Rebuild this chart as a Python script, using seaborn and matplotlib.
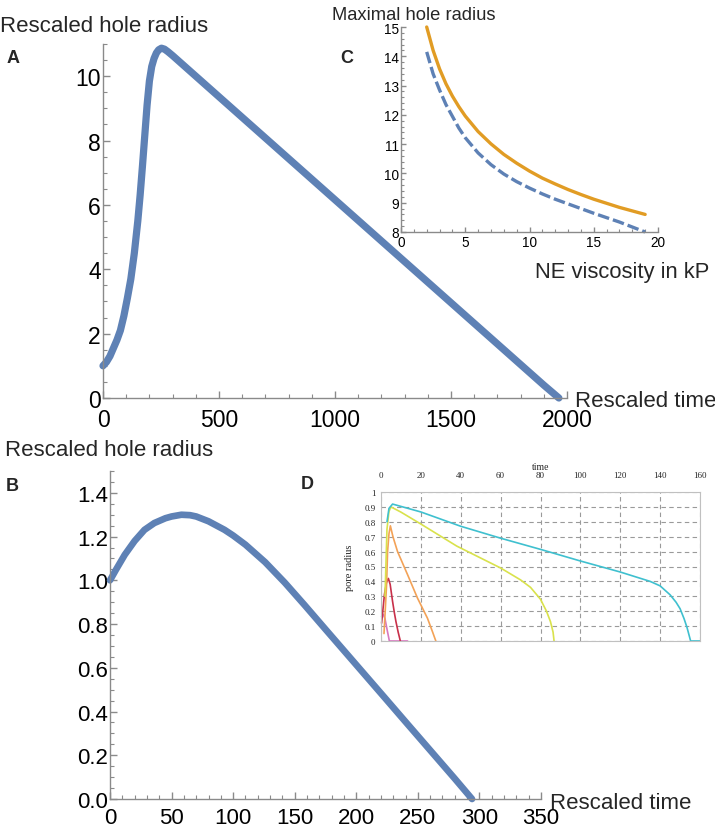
import numpy as np
import pandas as pd
import matplotlib
matplotlib.use("Agg")
import matplotlib.pyplot as plt
import seaborn as sns
from matplotlib.ticker import MultipleLocator, FixedLocator, FuncFormatter

# ---------------- data ----------------
# Panel A: rescaled hole radius vs rescaled time
a_time = [0, 15, 30, 45, 60, 75, 90, 105, 120, 135, 150, 160, 170, 180, 190, 200, 210,
          220, 230, 240, 252, 265, 280, 300, 400, 600, 800, 1000, 1250, 1500, 1750,
          1900, 1965]
a_radius = [1.0, 1.12, 1.3, 1.55, 1.8, 2.1, 2.55, 3.1, 3.7, 4.5, 5.5, 6.3, 7.2, 8.15,
            9.1, 9.85, 10.3, 10.55, 10.72, 10.82, 10.87, 10.84, 10.76, 10.64, 10.0, 8.72,
            7.44, 6.16, 4.56, 2.96, 1.36, 0.4, 0.0]

# Panel B
b_time = [0, 5, 12, 20, 28, 36, 45, 50, 58, 65, 70, 80, 93, 100, 110, 126, 142, 158,
          175, 191, 207, 223, 240, 260, 280, 294]
b_radius = [1.0, 1.05, 1.117, 1.18, 1.231, 1.262, 1.284, 1.292, 1.30, 1.298, 1.292,
            1.27, 1.231, 1.205, 1.163, 1.083, 0.989, 0.887, 0.776, 0.672, 0.568, 0.464,
            0.353, 0.223, 0.093, 0.0]

# Panel C: maximal hole radius vs NE viscosity
c_visc = [2, 2.5, 3, 3.5, 4, 4.5, 5, 6, 7, 8, 9, 10, 11, 12, 13, 14, 15, 16, 17, 18, 19]
c_orange = [15.0, 14.2, 13.57, 13.06, 12.64, 12.28, 11.96, 11.43, 11.01, 10.65, 10.35,
            10.08, 9.84, 9.64, 9.45, 9.28, 9.12, 8.98, 8.84, 8.72, 8.6]
c_blue = [14.15, 13.4, 12.85, 12.35, 11.95, 11.55, 11.22, 10.7, 10.3, 9.98, 9.72, 9.5,
          9.3, 9.12, 8.96, 8.8, 8.64, 8.49, 8.34, 8.17, 8.0]

# Panel D: pore radius vs time (five runs)
d_magenta_t = [0.3, 1.0, 2, 3, 4.2, 13.3]
d_magenta_r = [0.164, 0.18, 0.15, 0.08, 0.0, 0.0]
d_red_t = [0.3, 0.9, 1.7, 2.7, 3.7, 4.6, 5.8, 6.7, 7.5, 8.6, 9.7]
d_red_r = [0.12, 0.2, 0.31, 0.39, 0.42, 0.38, 0.266, 0.19, 0.13, 0.06, 0.0]
d_orange_t = [1.5, 2.3, 2.8, 3.3, 4.0, 4.7, 6, 8.3, 13.3, 18.3, 23.3, 25.8, 27.5]
d_orange_r = [0.05, 0.25, 0.38, 0.6, 0.72, 0.773, 0.7, 0.6, 0.446, 0.288, 0.153, 0.063,
              0.0]
d_yellow_t = [2, 3, 4, 5, 10, 20, 38, 60, 70, 75, 80, 83, 85, 86.3, 86.8]
d_yellow_r = [0.3, 0.75, 0.87, 0.9, 0.865, 0.785, 0.637, 0.49, 0.41, 0.36, 0.28, 0.2,
              0.13, 0.06, 0.0]
d_cyan_t = [3, 4, 5.8, 20, 40, 60, 80, 100, 120, 135, 140, 145, 148, 150, 152, 153.5,
            154.5, 155.3, 160]
d_cyan_r = [0.8, 0.89, 0.919, 0.866, 0.77, 0.69, 0.615, 0.537, 0.463, 0.40, 0.37, 0.31,
            0.26, 0.217, 0.15, 0.09, 0.04, 0.0, 0.0]

a_xticks = [0, 500, 1000, 1500, 2000]
a_yticks = [0, 2, 4, 6, 8, 10]
b_xticks = [0, 50, 100, 150, 200, 250, 300, 350]
b_yticks = [0.0, 0.2, 0.4, 0.6, 0.8, 1.0, 1.2, 1.4]
c_xticks = [0, 5, 10, 15, 20]
c_yticks = [8, 9, 10, 11, 12, 13, 14, 15]
d_xticks = [0, 20, 40, 60, 80, 100, 120, 140, 160]
d_yticks = [0, 0.1, 0.2, 0.3, 0.4, 0.5, 0.6, 0.7, 0.8, 0.9, 1.0]

# ---------------- style ----------------
sns.set_style("ticks")
plt.rcParams['font.family'] = ['Liberation Sans', 'DejaVu Sans']

BLUE = '#5E81B5'
ORANGE = '#E19C24'
GRAY = '#8a8a8a'

W, H = 715, 829
fig = plt.figure(figsize=(W / 100, H / 100), dpi=100)


def ax_at(l, t, r, b):
    return fig.add_axes([l / W, 1 - b / H, (r - l) / W, (b - t) / H])


def math_style(ax, size, xpad, ypad, majlen=5, minlen=3):
    for s in ['top', 'right']:
        ax.spines[s].set_visible(False)
    for s in ['left', 'bottom']:
        ax.spines[s].set_color(GRAY)
        ax.spines[s].set_linewidth(1.0)
    ax.tick_params(which='both', direction='in', color=GRAY, labelcolor='black')
    ax.tick_params(which='major', length=majlen, width=1.0)
    ax.tick_params(which='minor', length=minlen, width=0.8)
    ax.tick_params(axis='x', labelsize=size, pad=xpad)
    ax.tick_params(axis='y', labelsize=size, pad=ypad)
    ax.set_xlabel('')
    ax.set_ylabel('')
    ax.set_facecolor('none')


# ---------- Panel A ----------
axA = ax_at(103, 45, 567, 399)
sns.lineplot(x=a_time, y=a_radius, ax=axA, color=BLUE, lw=5.2, sort=False,
             estimator=None, clip_on=False)
axA.set_xlim(0, 2000)
axA.set_ylim(0, 11.0)
axA.xaxis.set_major_locator(FixedLocator(a_xticks))
axA.xaxis.set_minor_locator(MultipleLocator(100))
axA.yaxis.set_major_locator(FixedLocator(a_yticks))
axA.yaxis.set_minor_locator(MultipleLocator(0.5))
math_style(axA, 16.5, 7, 1.5)

# ---------- Panel B ----------
axB = ax_at(110, 472, 541, 800)
sns.lineplot(x=b_time, y=b_radius, ax=axB, color=BLUE, lw=4.8, sort=False,
             estimator=None, clip_on=False)
axB.set_xlim(0, 350)
axB.set_ylim(0, 1.5)
axB.xaxis.set_major_locator(FixedLocator(b_xticks))
axB.xaxis.set_minor_locator(MultipleLocator(10))
axB.yaxis.set_major_locator(FixedLocator(b_yticks))
axB.yaxis.set_minor_locator(MultipleLocator(0.05))
axB.yaxis.set_major_formatter(FuncFormatter(lambda v, p: f"{v:.1f}"))
math_style(axB, 16, 5.5, 1.5)

# ---------- Panel C ----------
axC = ax_at(401, 28, 658, 233)
sns.lineplot(x=c_visc, y=c_orange, ax=axC, color=ORANGE, lw=2.4, sort=False,
             estimator=None, clip_on=False)
sns.lineplot(x=c_visc, y=c_blue, ax=axC, color=BLUE, lw=2.4, sort=False,
             estimator=None, clip_on=False, linestyle=(0, (3.5, 1.2)))
axC.set_xlim(0, 20)
axC.set_ylim(8, 15)
axC.xaxis.set_major_locator(FixedLocator(c_xticks))
axC.xaxis.set_minor_locator(MultipleLocator(1))
axC.yaxis.set_major_locator(FixedLocator(c_yticks))
axC.yaxis.set_minor_locator(MultipleLocator(0.2))
math_style(axC, 9.8, 2, 1.5, majlen=3.5, minlen=2)

# ---------- Panel D ----------
axD = ax_at(381, 493, 700, 642)
d_series = [(d_magenta_t, d_magenta_r, '#d877c0'),
            (d_red_t, d_red_r, '#c8304a'),
            (d_orange_t, d_orange_r, '#f3a257'),
            (d_yellow_t, d_yellow_r, '#d9e24c'),
            (d_cyan_t, d_cyan_r, '#3fc0cf')]
for t, r, c in d_series:
    sns.lineplot(x=t, y=r, ax=axD, color=c, lw=1.2, sort=False, estimator=None,
                 clip_on=False)
axD.set_xlim(0, 160)
axD.set_ylim(0, 1)
axD.xaxis.tick_top()
axD.xaxis.set_label_position('top')
axD.xaxis.set_major_locator(FixedLocator(d_xticks))
axD.yaxis.set_major_locator(FixedLocator(d_yticks))
axD.yaxis.set_major_formatter(FuncFormatter(
    lambda v, p: '0' if v == 0 else ('1' if v == 1 else f"{v:.1f}")))
axD.grid(True, color='#9a9a9a', linestyle=(0, (4, 3)), linewidth=0.8)
for s in axD.spines.values():
    s.set_color('#c0c0c0')
    s.set_linewidth(0.8)
serif = ['Liberation Serif', 'DejaVu Serif']
axD.tick_params(which='both', length=0, labelsize=6.5)
axD.tick_params(axis='x', pad=9)
axD.tick_params(axis='y', pad=4)
for lab in axD.get_xticklabels() + axD.get_yticklabels():
    lab.set_family(serif)
axD.set_xlabel('time', family=serif, fontsize=7, labelpad=1.5)
axD.set_ylabel('pore radius', family=serif, fontsize=7.5, labelpad=7)
axD.set_facecolor('white')

# ---------- texts ----------
def ftext(x, y, s, **kw):
    fig.text(x / W, 1 - y / H, s, **kw)

ftext(0, 32, 'Rescaled hole radius', fontsize=16, va='baseline', ha='left')
ftext(575, 407, 'Rescaled time', fontsize=16, va='baseline', ha='left')
ftext(5, 456, 'Rescaled hole radius', fontsize=16, va='baseline', ha='left')
ftext(550, 809, 'Rescaled time', fontsize=16, va='baseline', ha='left')
ftext(332, 20, 'Maximal hole radius', fontsize=13.2, va='baseline', ha='left')
ftext(535, 278, 'NE viscosity in kP', fontsize=15.8, va='baseline', ha='left')

bold = dict(fontsize=13, fontweight='bold', va='baseline', ha='left')
ftext(7, 63, 'A', **bold)
ftext(6, 491, 'B', **bold)
ftext(340, 63, 'C', **bold)
ftext(301, 489, 'D', **bold)

fig.savefig('out.png', dpi=100)
